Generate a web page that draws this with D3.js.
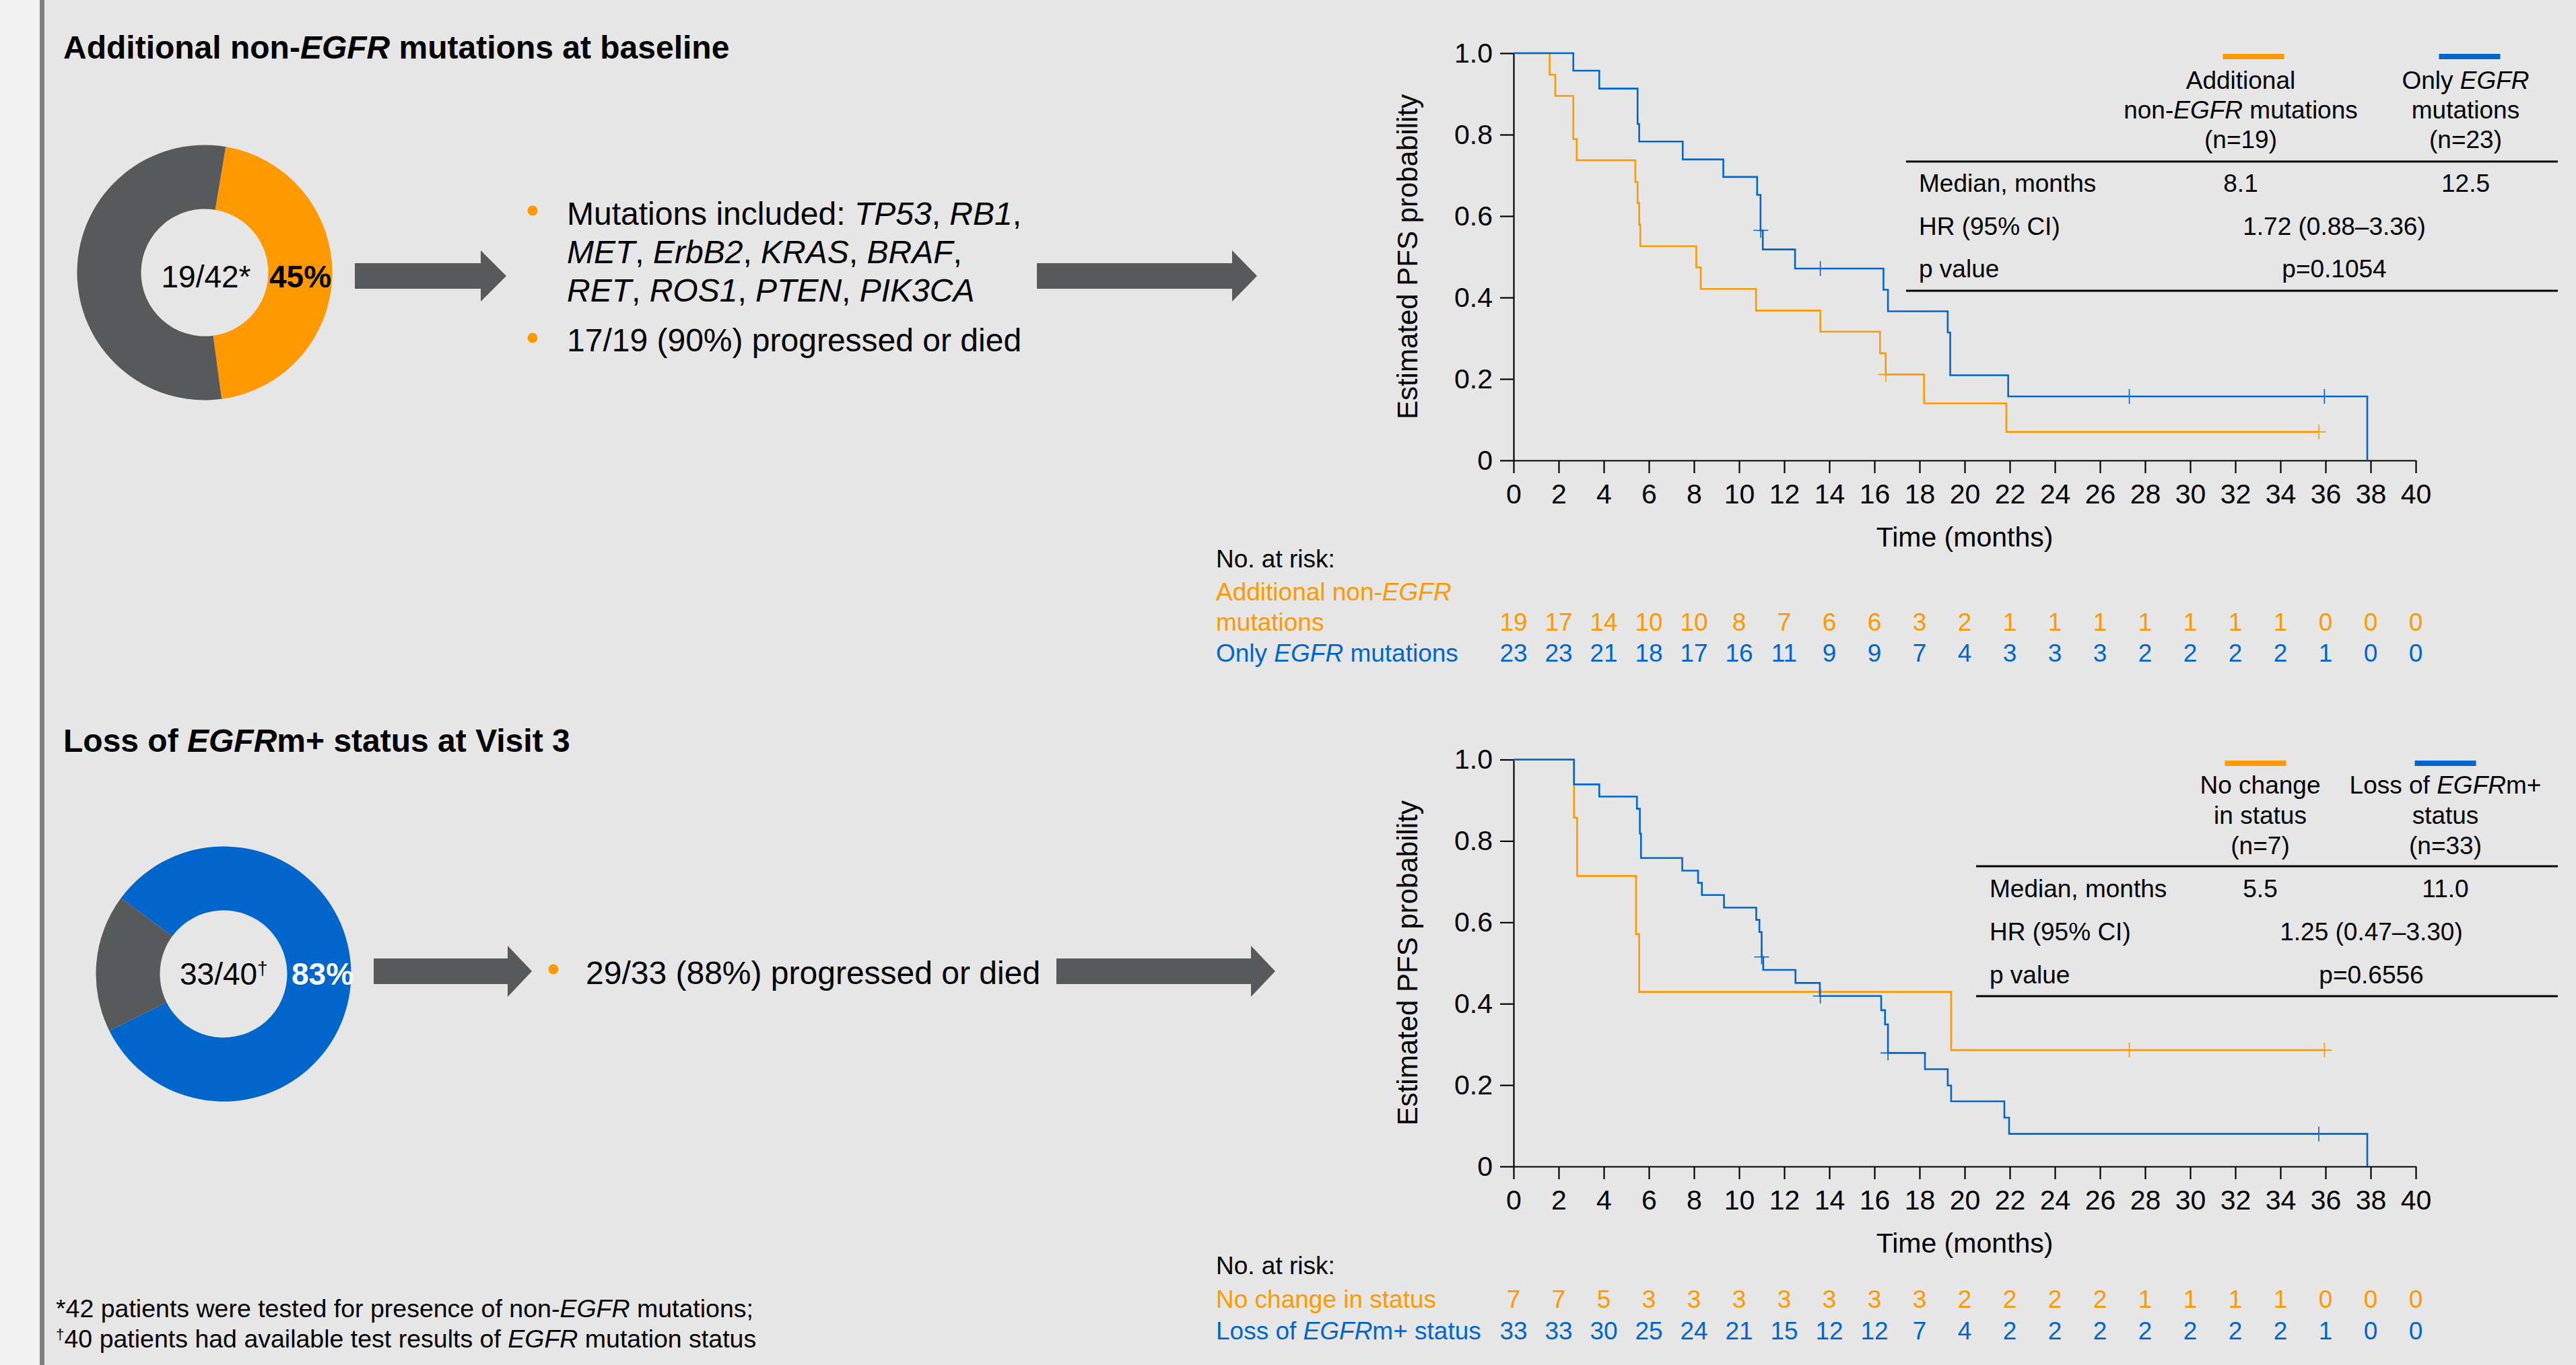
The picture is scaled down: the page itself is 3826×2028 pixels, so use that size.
<!DOCTYPE html>
<html>
<head>
<meta charset="utf-8">
<script src="https://cdn.jsdelivr.net/npm/d3@7"></script>
<style>
  html, body { margin: 0; padding: 0; background: #e6e6e6; overflow: hidden; }
  svg { display: block; }
  text { font-family: "Liberation Sans", Arial, Helvetica, sans-serif; }
</style>
</head>
<body>
<svg id="chart" width="3826" height="2028"></svg>
<script>
// ---------------- DATA ----------------
const monthTicks = [0, 2, 4, 6, 8, 10, 12, 14, 16, 18, 20, 22, 24, 26, 28, 30, 32, 34, 36, 38, 40];
const probTicks = [0, 0.2, 0.4, 0.6, 0.8, 1.0];

// Donuts
const donutTopValues = [19, 23];          // additional non-EGFR, none
const donutBottomValues = [33, 7];        // loss of EGFRm+, no change

// Panel A: Kaplan-Meier step points (time in months, survival)
const kmAddTime = [0, 1.6, 1.85, 2.65, 2.8, 5.4, 5.5, 5.57, 5.62, 8.1, 8.3, 10.75, 13.6, 16.25, 16.5, 18.2, 21.85, 35.7];
const kmAddSurv = [1, 0.947, 0.895, 0.789, 0.737, 0.684, 0.632, 0.579, 0.526, 0.474, 0.421, 0.368, 0.316, 0.263, 0.211, 0.140, 0.070, 0.070];
const kmAddCensorTime = [16.5, 35.7];
const kmAddCensorSurv = [0.211, 0.070];

const kmOnlyTime = [0, 2.65, 3.8, 5.5, 5.57, 7.5, 9.3, 10.8, 10.95, 11.05, 12.48, 16.4, 16.6, 19.25, 19.36, 21.93, 37.85];
const kmOnlySurv = [1, 0.957, 0.913, 0.826, 0.783, 0.739, 0.696, 0.652, 0.565, 0.518, 0.471, 0.419, 0.366, 0.314, 0.209, 0.157, 0];
const kmOnlyCensorTime = [10.96, 13.6, 27.3, 35.95];
const kmOnlyCensorSurv = [0.565, 0.471, 0.157, 0.157];

// Panel B
const kmNoChgTime = [0, 2.68, 2.82, 5.43, 5.57, 19.4, 35.95];
const kmNoChgSurv = [1, 0.857, 0.714, 0.571, 0.429, 0.286, 0.286];
const kmNoChgCensorTime = [27.3, 35.95];
const kmNoChgCensorSurv = [0.286, 0.286];

const kmLossTime = [0, 2.68, 3.8, 5.47, 5.6, 5.65, 7.48, 8.18, 8.35, 9.33, 10.76, 10.9, 11.0, 11.07, 12.5, 13.58, 16.3, 16.47, 16.6, 18.24, 19.25, 19.4, 21.76, 21.97, 37.85];
const kmLossSurv = [1, 0.939, 0.909, 0.879, 0.818, 0.758, 0.727, 0.697, 0.667, 0.636, 0.606, 0.576, 0.515, 0.483, 0.451, 0.419, 0.384, 0.349, 0.279, 0.239, 0.199, 0.160, 0.120, 0.080, 0];
const kmLossCensorTime = [11.0, 13.6, 16.6, 35.7];
const kmLossCensorSurv = [0.515, 0.419, 0.279, 0.080];

// Numbers at risk
const riskAdd = [19, 17, 14, 10, 10, 8, 7, 6, 6, 3, 2, 1, 1, 1, 1, 1, 1, 1, 0, 0, 0];
const riskOnly = [23, 23, 21, 18, 17, 16, 11, 9, 9, 7, 4, 3, 3, 3, 2, 2, 2, 2, 1, 0, 0];
const riskNoChg = [7, 7, 5, 3, 3, 3, 3, 3, 3, 3, 2, 2, 2, 2, 1, 1, 1, 1, 0, 0, 0];
const riskLoss = [33, 33, 30, 25, 24, 21, 15, 12, 12, 7, 4, 2, 2, 2, 2, 2, 2, 2, 1, 0, 0];

// Table texts
const tableRowLabels = ["Median, months", "HR (95% CI)", "p value"];
const tableTopMedians = ["8.1", "12.5"];
const tableTopHR = "1.72 (0.88–3.36)";
const tableTopP = "p=0.1054";
const tableBotMedians = ["5.5", "11.0"];
const tableBotHR = "1.25 (0.47–3.30)";
const tableBotP = "p=0.6556";

// ---------------- STYLE ----------------
const ORANGE = "#ff9900";
const BLUE = "#0066cc";
const GREY = "#58595b";
const BG = "#e6e6e6";

const svg = d3.select("#chart");
svg.append("rect").attr("width", 3826).attr("height", 2028).attr("fill", BG);
svg.append("rect").attr("x", 0).attr("y", 0).attr("width", 59).attr("height", 2028).attr("fill", "#f2f2f2");
svg.append("rect").attr("x", 59).attr("y", 0).attr("width", 7).attr("height", 2028).attr("fill", "#808080");

// rich text helper: parts = [[string, italic, bold, sup]]
function rich(g, x, y, parts, opts = {}) {
  const t = g.append("text")
    .attr("x", x).attr("y", y)
    .attr("font-size", opts.size || 48)
    .attr("fill", opts.fill || "#000")
    .attr("text-anchor", opts.anchor || "start")
    .attr("font-weight", opts.bold ? "bold" : "normal");
  parts.forEach(p => {
    const s = t.append("tspan").text(p[0]);
    if (p[1]) s.attr("font-style", "italic");
    if (p[3]) s.attr("baseline-shift", "super").attr("font-size", (opts.size || 48) * 0.6);
  });
  return t;
}

// ---------------- TITLES ----------------
rich(svg, 94, 87, [["Additional non-"], ["EGFR", true], [" mutations at baseline"]], { size: 48, bold: true });
rich(svg, 94, 1117, [["Loss of "], ["EGFR", true], ["m+ status at Visit 3"]], { size: 48, bold: true });

// ---------------- DONUTS ----------------
function donut(cx, cy, values, colors, startDeg) {
  const pie = d3.pie().sort(null)
    .startAngle(startDeg * Math.PI / 180)
    .endAngle((startDeg + 360) * Math.PI / 180);
  const arc = d3.arc().innerRadius(94.5).outerRadius(189.5);
  const g = svg.append("g").attr("transform", `translate(${cx},${cy})`);
  g.selectAll("path").data(pie(values)).join("path")
    .attr("d", arc).attr("fill", (d, i) => colors[i]);
  return g;
}
donut(304, 405, donutTopValues, [ORANGE, GREY], 9.5);
rich(svg, 306, 427, [[`${donutTopValues[0]}/${donutTopValues[0] + donutTopValues[1]}*`]], { size: 46, anchor: "middle" });
rich(svg, 400, 427, [[`${Math.round(100 * donutTopValues[0] / (donutTopValues[0] + donutTopValues[1]))}%`]], { size: 46, bold: true });

donut(332, 1447, donutBottomValues, [BLUE, GREY], -53.5);
rich(svg, 267, 1463, [[`${donutBottomValues[0]}/${donutBottomValues[0] + donutBottomValues[1]}`], ["†", false, false, true]], { size: 46 });
rich(svg, 433, 1463, [["83%"]], { size: 46, bold: true, fill: "#ffffff" });

// ---------------- ARROWS ----------------
function arrow(x0, xh, tip, yc) {
  const pts = [[x0, yc - 19], [xh, yc - 19], [xh, yc - 38], [tip, yc], [xh, yc + 38], [xh, yc + 19], [x0, yc + 19]];
  svg.append("path").attr("d", d3.line()(pts) + "Z").attr("fill", GREY);
}
arrow(527, 714, 752, 410);
arrow(1540, 1830, 1867, 410);
arrow(555, 754, 790, 1443);
arrow(1569, 1858, 1894, 1443);

// ---------------- BULLETS ----------------
svg.append("circle").attr("cx", 791).attr("cy", 313).attr("r", 7.5).attr("fill", ORANGE);
rich(svg, 842, 334, [["Mutations included: "], ["TP53", true], [", "], ["RB1", true], [","]]);
rich(svg, 842, 391, [["MET", true], [", "], ["ErbB2", true], [", "], ["KRAS", true], [", "], ["BRAF", true], [","]]);
rich(svg, 842, 448, [["RET", true], [", "], ["ROS1", true], [", "], ["PTEN", true], [", "], ["PIK3CA", true]]);
svg.append("circle").attr("cx", 791).attr("cy", 502).attr("r", 7.5).attr("fill", ORANGE);
rich(svg, 842, 522, [["17/19 (90%) progressed or died"]]);

svg.append("circle").attr("cx", 822).attr("cy", 1440).attr("r", 7.5).attr("fill", ORANGE);
rich(svg, 870, 1462, [["29/33 (88%) progressed or died"]]);

// ---------------- FOOTNOTES ----------------
rich(svg, 83, 1957, [["*42 patients were tested for presence of non-"], ["EGFR", true], [" mutations;"]], { size: 37.5 });
rich(svg, 83, 2002, [["†", false, false, true], ["40 patients had available test results of "], ["EGFR", true], [" mutation status"]], { size: 37.5 });

// ---------------- KM PANELS ----------------
function kmPanel(cfg) {
  const x = d3.scaleLinear().domain([0, 40]).range([2248, 3588]);
  const y = d3.scaleLinear().domain([0, 1]).range([cfg.y0, cfg.y1]);
  const g = svg.append("g");

  const yAxis = g.append("g").attr("transform", `translate(${x(0)},0)`)
    .call(d3.axisLeft(y).tickValues(probTicks)
      .tickFormat(d => d === 0 ? "0" : d3.format(".1f")(d))
      .tickSize(20).tickPadding(11).tickSizeOuter(0));
  const xAxis = g.append("g").attr("transform", `translate(0,${y(0)})`)
    .call(d3.axisBottom(x).tickValues(monthTicks).tickSize(19).tickPadding(16).tickSizeOuter(0));
  [yAxis, xAxis].forEach(a => {
    a.selectAll("path, line").attr("stroke", "#000").attr("stroke-width", 2.2);
    a.selectAll("text").attr("font-size", 41).attr("fill", "#000")
      .attr("font-family", '"Liberation Sans", Arial, sans-serif');
  });

  g.append("text")
    .attr("transform", `translate(2105,${(cfg.y0 + cfg.y1) / 2}) rotate(-90)`)
    .attr("text-anchor", "middle").attr("font-size", 42)
    .text("Estimated PFS probability");
  g.append("text").attr("x", (x(0) + x(40)) / 2).attr("y", cfg.y0 + 128)
    .attr("text-anchor", "middle").attr("font-size", 41).text("Time (months)");

  const line = d3.line().x(d => x(d[0])).y(d => y(d[1])).curve(d3.curveStepAfter);
  cfg.curves.forEach(c => {
    const pts = c.time.map((t, i) => [t, c.surv[i]]);
    g.append("path").attr("d", line(pts)).attr("fill", "none")
      .attr("stroke", c.color).attr("stroke-width", 2.6);
    c.ctime.forEach((t, i) => {
      const cx = x(t), cy = y(c.csurv[i]);
      g.append("path").attr("d", `M${cx - 11},${cy}h22M${cx},${cy - 11}v22`)
        .attr("stroke", c.color).attr("stroke-width", 1.6).attr("fill", "none");
    });
  });

  // legend swatches + header
  cfg.swatches.forEach(s => {
    g.append("rect").attr("x", s.cx - 45.5).attr("y", cfg.swY).attr("width", 91).attr("height", 8).attr("fill", s.color);
  });
  cfg.headers.forEach(h => {
    h.lines.forEach((ln, i) => rich(g, h.cx, cfg.headY[i], ln, { size: 37, anchor: "middle" }));
  });
  g.append("line").attr("x1", cfg.ruleX).attr("x2", 3799).attr("y1", cfg.rule1).attr("y2", cfg.rule1)
    .attr("stroke", "#000").attr("stroke-width", 3);
  g.append("line").attr("x1", cfg.ruleX).attr("x2", 3799).attr("y1", cfg.rule2).attr("y2", cfg.rule2)
    .attr("stroke", "#000").attr("stroke-width", 3);
  tableRowLabels.forEach((lab, i) => rich(g, cfg.labelX, cfg.rowY[i], [[lab]], { size: 37 }));
  cfg.medians.forEach((m, i) => rich(g, cfg.headers[i].cx, cfg.rowY[0], [[m]], { size: 37, anchor: "middle" }));
  rich(g, cfg.hrX, cfg.rowY[1], [[cfg.hr]], { size: 37, anchor: "middle" });
  rich(g, cfg.hrX, cfg.rowY[2], [[cfg.p]], { size: 37, anchor: "middle" });

  // numbers at risk
  rich(g, 1806, cfg.riskY0, [["No. at risk:"]], { size: 37 });
  cfg.riskLabels.forEach(rl => rl.lines.forEach(l => rich(g, 1806, l.y, l.parts, { size: 37, fill: rl.color })));
  cfg.risk.forEach(r => {
    g.append("g").selectAll("text").data(r.values).join("text")
      .attr("x", (d, i) => x(monthTicks[i])).attr("y", r.y)
      .attr("text-anchor", "middle").attr("font-size", 37).attr("fill", r.color)
      .text(d => d);
  });
}

kmPanel({
  y0: 684, y1: 79,
  curves: [
    { time: kmAddTime, surv: kmAddSurv, ctime: kmAddCensorTime, csurv: kmAddCensorSurv, color: ORANGE },
    { time: kmOnlyTime, surv: kmOnlySurv, ctime: kmOnlyCensorTime, csurv: kmOnlyCensorSurv, color: BLUE }
  ],
  swY: 80,
  swatches: [{ cx: 3347, color: ORANGE }, { cx: 3668, color: BLUE }],
  headY: [132, 176, 220],
  headers: [
    { cx: 3328, lines: [[["Additional"]], [["non-"], ["EGFR", true], [" mutations"]], [["(n=19)"]]] },
    { cx: 3662, lines: [[["Only "], ["EGFR", true]], [["mutations"]], [["(n=23)"]]] }
  ],
  ruleX: 2831, rule1: 240, rule2: 432,
  labelX: 2850, rowY: [285, 349, 412],
  medians: tableTopMedians, hr: tableTopHR, p: tableTopP, hrX: 3467,
  riskY0: 843,
  riskLabels: [
    { color: ORANGE, lines: [{ y: 892, parts: [["Additional non-"], ["EGFR", true]] }, { y: 937, parts: [["mutations"]] }] },
    { color: BLUE, lines: [{ y: 983, parts: [["Only "], ["EGFR", true], [" mutations"]] }] }
  ],
  risk: [{ values: riskAdd, y: 937, color: ORANGE }, { values: riskOnly, y: 983, color: BLUE }]
});

kmPanel({
  y0: 1733, y1: 1128.5,
  curves: [
    { time: kmNoChgTime, surv: kmNoChgSurv, ctime: kmNoChgCensorTime, csurv: kmNoChgCensorSurv, color: ORANGE },
    { time: kmLossTime, surv: kmLossSurv, ctime: kmLossCensorTime, csurv: kmLossCensorSurv, color: BLUE }
  ],
  swY: 1130,
  swatches: [{ cx: 3350, color: ORANGE }, { cx: 3632, color: BLUE }],
  headY: [1179, 1224, 1269],
  headers: [
    { cx: 3357, lines: [[["No change"]], [["in status"]], [["(n=7)"]]] },
    { cx: 3632, lines: [[["Loss of "], ["EGFR", true], ["m+"]], [["status"]], [["(n=33)"]]] }
  ],
  ruleX: 2935, rule1: 1287, rule2: 1480,
  labelX: 2955, rowY: [1333, 1397, 1461],
  medians: tableBotMedians, hr: tableBotHR, p: tableBotP, hrX: 3522,
  riskY0: 1893,
  riskLabels: [
    { color: ORANGE, lines: [{ y: 1943, parts: [["No change in status"]] }] },
    { color: BLUE, lines: [{ y: 1990, parts: [["Loss of "], ["EGFR", true], ["m+ status"]] }] }
  ],
  risk: [{ values: riskNoChg, y: 1943, color: ORANGE }, { values: riskLoss, y: 1990, color: BLUE }]
});
</script>
</body>
</html>
